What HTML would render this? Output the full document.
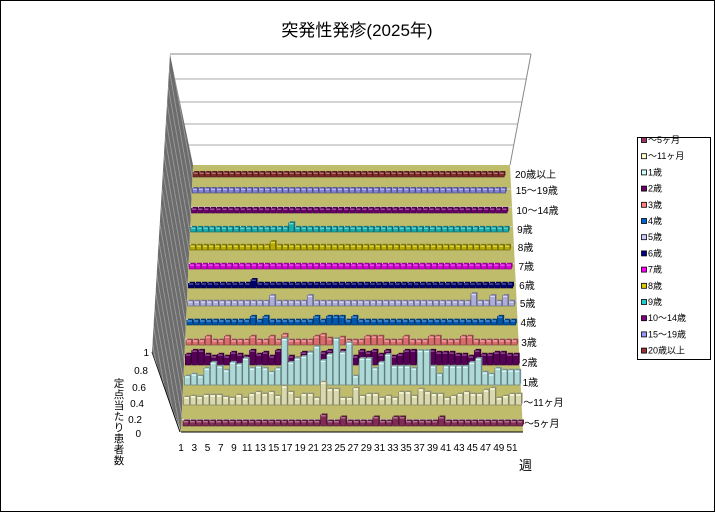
<!DOCTYPE html>
<html><head><meta charset="utf-8"><style>
body{margin:0;background:#fff}
#wrap{position:relative;width:715px;height:512px}
svg{display:block;font-family:"Liberation Sans","Noto Sans CJK JP",sans-serif}
#wall{position:absolute;left:0;top:0;width:715px;height:512px;background:repeating-linear-gradient(80deg,#6c6c6c 0px,#6c6c6c 3px,#959595 3px,#959595 4px);clip-path:polygon(170px 54px,193px 165px,181px 432px,152px 352px)}
</style></head><body>
<div id="wrap">
<svg id="s" width="715" height="512" xmlns="http://www.w3.org/2000/svg">
<rect x="0.5" y="0.5" width="714" height="511" fill="#fff" stroke="#000"/>
<text x="357" y="36" font-size="17" text-anchor="middle">突発性発疹(2025年)</text>
<polygon points="170,54 531,54 510,165 193,165" fill="#fff"/>
<g stroke="#aaa" stroke-width="1">
<line x1="175" y1="79" x2="526" y2="79"/><line x1="180" y1="102" x2="522" y2="102"/>
<line x1="184" y1="124" x2="518" y2="124"/><line x1="189" y1="145" x2="514" y2="145"/>
</g>
<line x1="170" y1="54" x2="531" y2="54" stroke="#888"/>
<line x1="531" y1="54" x2="510" y2="165" stroke="#888"/>
<polygon points="193,165 510,165 523,432 181,432" fill="#bfbd6c"/>
<g id="fl" stroke="#d8d8d0" stroke-width="1"></g>
<g id="bars"></g>
<line x1="152" y1="352" x2="180" y2="432" stroke="#000"/>
<g font-size="10" text-anchor="end">
<text x="149" y="356">1</text><text x="148" y="374">0.8</text><text x="146" y="391">0.6</text>
<text x="144" y="407">0.4</text><text x="142" y="423">0.2</text><text x="141" y="437">0</text>
</g>
<g font-size="10.5" text-anchor="middle">
<text x="119" y="387">定</text><text x="119" y="398">点</text><text x="119" y="409">当</text><text x="119" y="420">た</text><text x="119" y="431">り</text><text x="119" y="442">患</text><text x="119" y="453">者</text><text x="119" y="464">数</text>
</g>
<g id="xl" font-size="10" text-anchor="middle"></g>
<line x1="181" y1="432" x2="523" y2="432" stroke="#000"/>
<text x="519" y="470" font-size="13">週</text>
<g id="rl" font-size="10"></g>
<rect x="637.5" y="137.5" width="73" height="222" fill="#fff" stroke="#000"/>
<g id="lg" font-size="9"></g>
</svg>
<div id="wall"></div>
</div>
<script>
var NS="http://www.w3.org/2000/svg";
function el(p,t,a,txt){var e=document.createElementNS(NS,t);for(var k in a)e.setAttribute(k,a[k]);if(txt)e.textContent=txt;document.getElementById(p).appendChild(e);return e;}
var series=[
["～5ヶ月","#993366"],["～11ヶ月","#FFFFCC"],["1歳","#CCFFFF"],["2歳","#660066"],["3歳","#FF8080"],
["4歳","#0066CC"],["5歳","#CCCCFF"],["6歳","#000080"],["7歳","#FF00FF"],["8歳","#D8CC00"],
["9歳","#20CCCC"],["10～14歳","#800080"],["15～19歳","#9999FF"],["20歳以上","#993333"]];
var rowY=[426,405,385,365,345,325,306,288,269,250,232,213,193,177];
var N=52,base=[];for(var i=0;i<N;i++)base.push(0);
function A(arr){var r=base.slice();arr.forEach(function(p){r[p[0]-1]=p[1];});return r;}
var one=[4,6,4,12,18,14,10,18,16,22,12,14,12,8,12,42,18,22,24,28,34,20,26,42,28,38,4,22,22,12,18,26,14,14,14,12,30,30,14,6,14,14,14,14,18,22,8,6,12,10,10,10];
var eleven=[3,4,3,5,5,5,3,2,5,2,6,8,6,8,4,14,8,2,6,6,2,18,11,11,2,2,12,4,6,6,2,4,2,8,8,4,11,8,6,6,2,4,6,8,6,6,10,12,2,4,6,6];
var two=[6,10,10,6,4,6,4,8,6,4,10,6,8,4,10,6,4,2,8,8,2,8,10,8,10,6,4,10,8,10,6,10,4,6,10,10,6,6,10,8,8,8,6,6,4,10,6,6,8,8,6,6];
var data=[A([[22,6],[25,4],[30,4],[33,4],[34,4],[40,4]]),eleven,one,two,
A([[4,4],[7,4],[11,4],[14,4],[16,6],[21,4],[22,6],[23,2],[25,3],[29,4],[30,4],[31,4],[35,4],[39,4],[40,4],[44,4],[45,4]]),
A([[11,4],[13,4],[21,4],[23,4],[24,4],[25,4],[27,4],[50,4]]),
A([[14,6],[20,6],[46,8],[49,6],[51,6]]),A([[11,4]]),base,A([[14,4]]),A([[17,5]]),base,base,base];
for(var r=0;r<13;r++){var y=(rowY[r]+rowY[r+1])/2+4;var t=(426-y)/249;el("fl","line",{x1:181+t*12,y1:y,x2:523-t*13,y2:y});}
function shade(c,f){var n=parseInt(c.slice(1),16),R=n>>16,G=(n>>8)&255,B=n&255;function g(v){return Math.max(0,Math.min(255,Math.round(f>1?v+(255-v)*(f-1):v*f)));}return "rgb("+g(R)+","+g(G)+","+g(B)+")";}
for(var r=13;r>=0;r--){
 var t=r/13, x0=183+t*10, step=6.55-t*0.55, sc=1-t*0.12, y=rowY[r], bh=5-t*0.5, w=step-0.8;
 var c=series[r][1];
 for(var i=0;i<N;i++){
  var h=bh+data[r][i]*sc, x=x0+i*step;
  el("bars","rect",{x:x+1.2,y:y-h-1.5,width:w,height:h,fill:shade(c,0.6)});
  el("bars","rect",{x:x,y:y-h,width:w,height:h,fill:shade(c,0.85),stroke:shade(c,0.45),"stroke-width":0.6});
  el("bars","rect",{x:x+0.5,y:y-h,width:w-1,height:1.5,fill:shade(c,1.3)});
 }
 el("rl","text",{x:524-t*9,y:y+1},series[r][0]);
}
for(var i=1;i<=51;i+=2){el("xl","text",{x:181+(i-1)*6.62,y:451},""+i);}
for(var k=0;k<14;k++){var y=143+k*16.2;el("lg","rect",{x:641.5,y:y-5.5,width:5,height:5,fill:series[k][1],stroke:"#000","stroke-width":0.8});el("lg","text",{x:648,y:y},series[k][0]);}
</script>
</body></html>
